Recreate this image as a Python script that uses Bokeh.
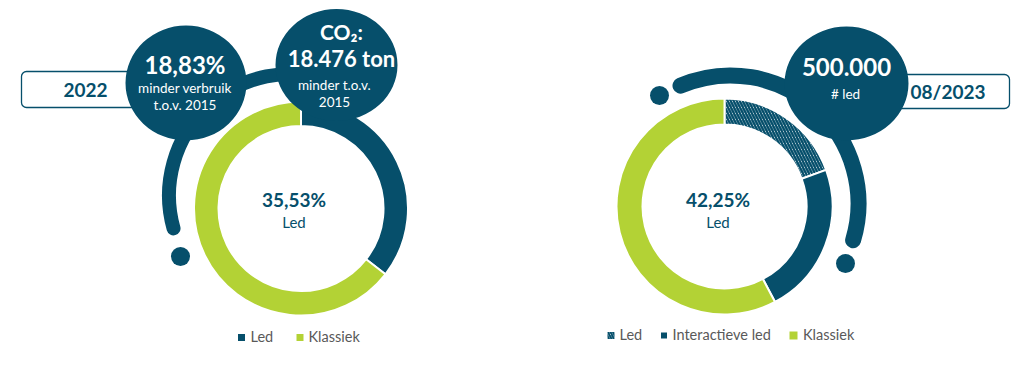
import math
from bokeh.plotting import figure
from bokeh.models import Range1d, BoxAnnotation, ColumnDataSource
from bokeh.core.properties import value
from bokeh.embed import file_html
from bokeh.resources import INLINE

# ---------------- data ----------------
left_categories = ["Led", "Klassiek"]
left_values = [35.53, 64.47]
right_categories = ["Led", "Interactieve led", "Klassiek"]
right_values = [19.5, 22.75, 57.75]

left_year = "2022"
right_date = "08/2023"
left_kpi_energy = ["18,83%", "minder verbruik", "t.o.v. 2015"]
left_kpi_co2 = ["CO₂:", "18.476 ton", "minder t.o.v.", "2015"]
right_kpi = ["500.000", "# led"]
left_center = ["35,53%", "Led"]
right_center = ["42,25%", "Led"]

# ---------------- style ----------------
DARK = "#064f6b"
GREEN = "#b3d235"
GREY = "#595959"
FONT = "Lato"

W, H = 1017, 352


def Y(y):
    return H - y


p = figure(width=W, height=H, x_range=Range1d(0, W), y_range=Range1d(0, H),
           output_backend="svg", toolbar_location=None, min_border=0,
           x_axis_location=None, y_axis_location=None)
p.grid.visible = False
p.outline_line_color = None
p.background_fill_color = "white"


def txt(x, y, s, size, color="white", bold=False, align="center"):
    p.text(x=[x], y=[Y(y)], text=[s], text_font=value(FONT),
           text_font_size=value(f"{size}px"),
           text_font_style="bold" if bold else "normal",
           text_color=color, text_align=align, text_baseline="middle")


# label boxes
for l, r, t, b in [(21, 150, 71, 107), (870, 1009, 74, 108)]:
    p.add_layout(BoxAnnotation(left=l, right=r, top=Y(t), bottom=Y(b),
                               fill_color="white", fill_alpha=1, line_color=DARK,
                               line_alpha=1, line_width=1.3, border_radius=5,
                               level="underlay"))

# decorative arcs and dots
p.arc(x=[290], y=[Y(195)], radius=121.5, start_angle=70, end_angle=195.7,
      start_angle_units="deg", end_angle_units="deg", direction="anticlock",
      line_color=DARK, line_width=14, line_cap="round")
p.circle(x=[180], y=[Y(256)], radius=9.5, fill_color=DARK, line_color=None)

p.arc(x=[730], y=[Y(203)], radius=128, start_angle=-16.7, end_angle=113,
      start_angle_units="deg", end_angle_units="deg", direction="anticlock",
      line_color=DARK, line_width=16, line_cap="round")
p.circle(x=[659], y=[Y(95)], radius=9.5, fill_color=DARK, line_color=None)
p.circle(x=[845], y=[Y(263)], radius=9.5, fill_color=DARK, line_color=None)


def donut(cx, cy, values, colors, hatches, r_in, r_out):
    total = float(sum(values))
    cum = 0.0
    starts, ends = [], []
    for v in values:
        starts.append(math.pi / 2 - 2 * math.pi * cum / total)
        cum += v
        ends.append(math.pi / 2 - 2 * math.pi * cum / total)
    src = ColumnDataSource(dict(start=starts, end=ends, color=colors, hatch=hatches))
    p.annular_wedge(x=cx, y=Y(cy), inner_radius=r_in, outer_radius=r_out,
                    start_angle="start", end_angle="end", direction="clock",
                    fill_color="color", hatch_pattern="hatch", hatch_color=DARK,
                    hatch_scale=6, hatch_weight=2.4,
                    line_color="white", line_width=2, source=src)


donut(300.5, 208, left_values, [DARK, GREEN], [" ", " "], 82.5, 107)
donut(724, 206, right_values, ["white", DARK, GREEN], ["\\", " ", " "], 82, 108)

# bubbles
p.ellipse(x=[185.5, 336, 846], y=[Y(82.5), Y(64.5), Y(83)],
          width=[121, 122, 124], height=[115, 112, 114],
          fill_color=DARK, line_color=None)

# bubble texts
txt(184.5, 64, left_kpi_energy[0], 24, bold=True)
txt(184.5, 87, left_kpi_energy[1], 13.5)
txt(184.5, 104, left_kpi_energy[2], 13.5)

txt(341, 31, left_kpi_co2[0], 21, bold=True)
txt(341, 58, left_kpi_co2[1], 22, bold=True)
txt(334, 84, left_kpi_co2[2], 13.5)
txt(334, 101, left_kpi_co2[3], 13.5)

txt(846, 66, right_kpi[0], 24, bold=True)
txt(845, 93, right_kpi[1], 13.5)

# box texts
txt(85, 89, left_year, 19, color=DARK, bold=True)
txt(947.5, 91, right_date, 19, color=DARK, bold=True)

# center texts
txt(293.5, 199, left_center[0], 19, color=DARK, bold=True)
txt(293.5, 221, left_center[1], 15, color=DARK)
txt(717.5, 199, right_center[0], 19, color=DARK, bold=True)
txt(717.5, 221, right_center[1], 15, color=DARK)

# legends
p.rect(x=[241, 299.5], y=[Y(337), Y(337)], width=7, height=7,
       fill_color=[DARK, GREEN], line_color=None)
txt(250, 336, left_categories[0], 14.5, color=GREY, align="left")
txt(308, 336, left_categories[1], 14.5, color=GREY, align="left")

p.rect(x=[610.5], y=[Y(335)], width=7, height=7, fill_color="white",
       line_color=None, hatch_pattern="\\", hatch_color=DARK, hatch_scale=5,
       hatch_weight=2)
p.rect(x=[663.5, 793], y=[Y(335), Y(335)], width=[6, 8], height=[6, 8],
       fill_color=[DARK, GREEN], line_color=None)
txt(619, 334, right_categories[0], 14.5, color=GREY, align="left")
txt(672, 334, right_categories[1], 14.5, color=GREY, align="left")
txt(802.5, 334, right_categories[2], 14.5, color=GREY, align="left")

open("out.html", "w").write(file_html(p, INLINE))
